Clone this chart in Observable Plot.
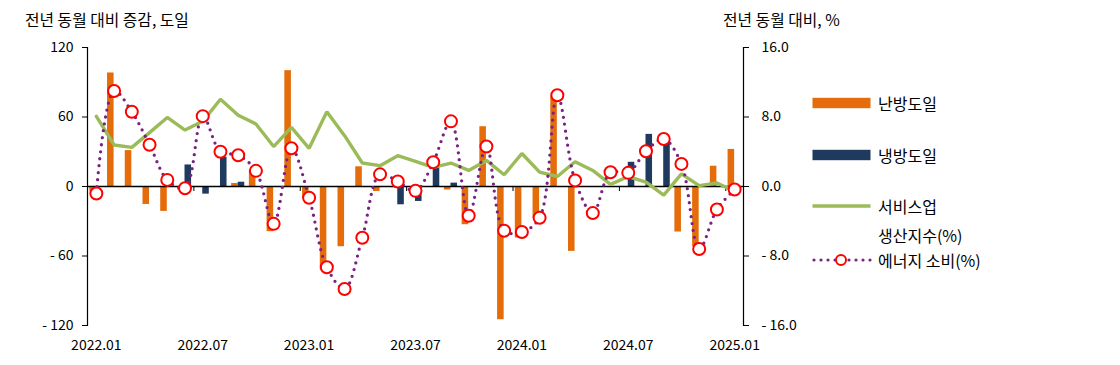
<!DOCTYPE html>
<html>
<head>
<meta charset="utf-8">
<script src="https://cdn.jsdelivr.net/npm/d3@7"></script>
<script src="https://cdn.jsdelivr.net/npm/@observablehq/plot@0.6"></script>
<style>
  html, body { margin: 0; padding: 0; background: #fff; }
  body { font-family: "Noto Sans CJK KR", "Noto Sans", sans-serif; color: #000; }
  #wrap { position: relative; width: 1120px; height: 365px; overflow: hidden; }
  #chart { position: absolute; left: 0; top: 0; }
  .t { position: absolute; white-space: nowrap; line-height: 20px; }
  .title { font-size: 15.8px; }
  .lt { font-size: 16px; }
  .sw { position: absolute; }
</style>
</head>
<body>
<div id="wrap">
  <div id="chart"></div>
  <div class="t title" style="left:25px; top:10px;">전년 동월 대비 증감, 도일</div>
  <div class="t title" style="left:723px; top:10px;">전년 동월 대비, %</div>
  <div id="legend"></div>
</div>
<script>
// ---- data ----
const months = [
  "2022.01","2022.02","2022.03","2022.04","2022.05","2022.06","2022.07","2022.08","2022.09","2022.10","2022.11","2022.12",
  "2023.01","2023.02","2023.03","2023.04","2023.05","2023.06","2023.07","2023.08","2023.09","2023.10","2023.11","2023.12",
  "2024.01","2024.02","2024.03","2024.04","2024.05","2024.06","2024.07","2024.08","2024.09","2024.10","2024.11","2024.12",
  "2025.01"
];
const labelMonths = ["2022.01","2022.07","2023.01","2023.07","2024.01","2024.07","2025.01"];
// 난방도일 (heating degree days, YoY change, left axis)
const heating = [
  -4, 98, 31, -15.5, -21.5, 0, 0, 0, 2.6, 14, -39, 100,
  -10, -72, -52, 17, -4.3, -1, 0, 0, -3, -33, 51.6, -115,
  -44.5, -27.5, 78, -56, 0, 0, 0, 0, 0, -39.3, -52, 17.5,
  32
];
// 냉방도일 (cooling degree days, YoY change, left axis)
const cooling = [
  0, 0, 0, 0, 0, 18.6, -6.6, 25.2, 3.7, 0, 0, 0,
  0, 0, 0, 0, 0, -15.8, -12.9, 16.6, 2.9, 0, 0, 0,
  0, 0, 0, 0, 0, 0, 20.9, 45, 41.6, 0, 0, 0,
  0
];
// 서비스업 생산지수 (%, right axis)
const services = [
  8.07, 4.78, 4.5, 6.2, 7.95, 6.5, 7.5, 10.05, 8.2, 7.2, 4.6, 6.8,
  4.4, 8.6, 5.85, 2.7, 2.4, 3.55, 2.9, 2.2, 2.7, 1.85, 3.0, 1.35,
  3.8, 1.65, 1.15, 2.85, 1.85, 0.25, 1.15, 0.5, -1.0, 1.45, 0.1, 0.4,
  -0.55
];
// 에너지 소비 (%, right axis)
const energy = [
  -0.8, 11.0, 8.6, 4.8, 0.76, -0.2, 8.1, 4.0, 3.6, 1.8, -4.3, 4.4,
  -1.3, -9.3, -11.8, -5.9, 1.4, 0.57, -0.5, 2.8, 7.5, -3.36, 4.6, -5.1,
  -5.24, -3.6, 10.5, 0.7, -3.06, 1.64, 1.57, 4.05, 5.47, 2.6, -7.2, -2.64,
  -0.34
];
const leftTicks = [-120, -60, 0, 60, 120];
const rightTicks = [-16, -8, 0, 8, 16];

// ---- layout ----
const W = 1120, H = 365;
const mL = 87, mR = 377, mT = 47, mB = 40;
const pIn = 0.26, pOut = 0.13;
const k = 120 / 16; // right-axis (%) to left-axis units
const innerW = W - mL - mR;
const step = innerW / (months.length - pIn + 2 * pOut);
const bw = step * (1 - pIn);
const pxPerUnit = (H - mT - mB) / 240;

const C = { heat: "#E46C0A", cool: "#1F3A5F", svc: "#9BBB59", en: "#7A2283", dot: "#FF0000" };

const rows = months.map((m, i) => ({
  m, heat: heating[i], cool: cooling[i], svc: services[i] * k, en: energy[i] * k
}));
const neg = v => v < 0 ? "- " + (-v) : String(v);
const negF = v => v < 0 ? "- " + (-v).toFixed(1) : v.toFixed(1);

const chart = Plot.plot({
  width: W, height: H,
  marginLeft: mL, marginRight: mR, marginTop: mT, marginBottom: mB,
  style: { fontFamily: '"Noto Sans CJK KR", sans-serif', fontSize: "14px", color: "#000", background: "transparent" },
  x: { type: "band", domain: months, paddingInner: pIn, paddingOuter: pOut, round: false, axis: null },
  y: { domain: [-120, 120], axis: null },
  marks: [
    Plot.barY(rows.filter(d => d.heat !== 0), { x: "m", y: "heat", fill: C.heat, insetRight: bw / 2 }),
    Plot.barY(rows.filter(d => d.cool !== 0), { x: "m", y: "cool", fill: C.cool, insetLeft: bw / 2 }),
    Plot.ruleY([0], { stroke: "#000", strokeWidth: 1.3 }),
    Plot.ruleX(labelMonths.slice(1), { x: d => d, y1: 0, y2: -5 / pxPerUnit, dx: -step / 2, stroke: "#000", strokeWidth: 1 }),
    Plot.frame({ anchor: "left", stroke: "#000", strokeWidth: 1.2 }),
    Plot.frame({ anchor: "right", stroke: "#000", strokeWidth: 1.2 }),
    Plot.axisY({ anchor: "left", ticks: leftTicks, tickSize: 5, tickPadding: 9, tickFormat: neg, fontSize: 14, label: null }),
    Plot.axisY({ anchor: "right", ticks: rightTicks.map(v => v * k), tickSize: 5, tickPadding: 13, tickFormat: v => negF(v / k), fontSize: 14, label: null }),
    Plot.axisX({ anchor: "bottom", ticks: labelMonths, tickSize: 0, tickPadding: 15, fontSize: 14, label: null }),
    Plot.lineY(rows, { x: "m", y: "svc", stroke: C.svc, strokeWidth: 3.4, strokeLinejoin: "miter" }),
    Plot.lineY(rows, { x: "m", y: "en", curve: "catmull-rom", stroke: C.en, strokeWidth: 3.3, strokeDasharray: "0 7", strokeLinecap: "round" }),
    Plot.dot(rows, { x: "m", y: "en", r: 6, fill: "#fff", stroke: C.dot, strokeWidth: 2 })
  ]
});
document.getElementById("chart").appendChild(chart);

// ---- legend (HTML) ----
const legendItems = [
  { label: "난방도일", kind: "rect", color: C.heat, cy: 102.5 },
  { label: "냉방도일", kind: "rect", color: C.cool, cy: 154.5 },
  { label: "서비스업", kind: "line", color: C.svc, cy: 206 },
  { label: "생산지수(%)", kind: "none", cy: 235 },
  { label: "에너지 소비(%)", kind: "dots", color: C.en, cy: 259.5 }
];
const lg = document.getElementById("legend");
legendItems.forEach(it => {
  const t = document.createElement("div");
  t.className = "t lt";
  t.style.left = "878px";
  t.style.top = (it.cy - 10) + "px";
  t.textContent = it.label;
  lg.appendChild(t);
  if (it.kind === "none") return;
  const s = document.createElementNS("http://www.w3.org/2000/svg", "svg");
  s.setAttribute("class", "sw");
  s.setAttribute("width", 62); s.setAttribute("height", 16);
  s.style.left = "811px"; s.style.top = (it.cy - 8) + "px";
  let inner = "";
  if (it.kind === "rect") inner = `<rect x="1.5" y="2.8" width="58" height="10.4" fill="${it.color}"/>`;
  if (it.kind === "line") inner = `<line x1="1.5" x2="59.5" y1="8" y2="8" stroke="${it.color}" stroke-width="3.4"/>`;
  if (it.kind === "dots") inner = `<line x1="3" x2="60" y1="8" y2="8" stroke="${it.color}" stroke-width="3.2" stroke-dasharray="0 7" stroke-linecap="round"/>` +
    `<circle cx="30" cy="8" r="5" fill="#fff" stroke="${C.dot}" stroke-width="2"/>`;
  s.innerHTML = inner;
  lg.appendChild(s);
});
</script>
</body>
</html>
